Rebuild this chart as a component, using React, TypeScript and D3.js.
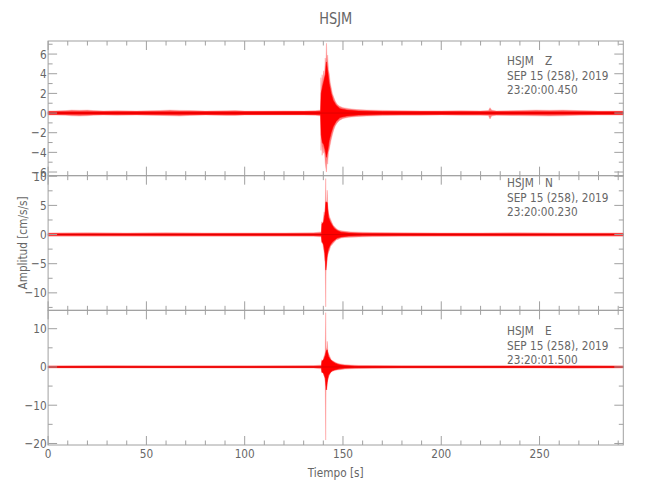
import React from "react";
import * as d3 from "d3";

type Row = [number, number, number];

const X_MAX = 292.6;
const xMajorTicks = [0, 50, 100, 150, 200, 250];
const titleText = "HSJM";
const xLabel = "Tiempo [s]";
const yLabel = "Amplitud [cm/s/s]";

// Z component envelope [t, upper, lower]
const zOuter: Row[] = [
  [0, 0.2, -0.2], [4, 0.22, -0.2], [9, 0.25, -0.22], [12, 0.3, -0.28], [16, 0.28, -0.3],
  [20, 0.3, -0.27], [23, 0.25, -0.22], [28, 0.22, -0.2], [35, 0.24, -0.22], [45, 0.2, -0.2],
  [57, 0.26, -0.24], [62, 0.3, -0.27], [67, 0.27, -0.3], [72, 0.26, -0.24], [80, 0.2, -0.2],
  [91, 0.24, -0.24], [95, 0.26, -0.24], [100, 0.2, -0.2], [110, 0.2, -0.2], [120, 0.22, -0.2],
  [130, 0.2, -0.2], [136, 0.24, -0.22], [138.6, 0.3, -0.3], [138.8, 3.6, -3.8], [139.1, 2.2, -2.5],
  [139.4, 3.9, -4.3], [139.8, 3.0, -3.4], [140.2, 4.3, -4.1], [140.6, 3.6, -3.9], [141.0, 5.6, -5.1],
  [141.3, 4.8, -5.6], [141.6, 7.1, -6.0], [141.9, 5.2, -4.6], [142.2, 5.9, -5.2], [142.6, 4.4, -4.0],
  [143.0, 4.0, -3.7], [143.5, 3.1, -3.2], [144.0, 2.6, -2.7], [144.6, 2.0, -2.2], [145.3, 1.6, -1.7],
  [146.1, 1.2, -1.3], [147.0, 0.9, -1.0], [148.2, 0.7, -0.75], [150, 0.55, -0.55], [153, 0.45, -0.42],
  [157, 0.35, -0.35], [162, 0.3, -0.3], [170, 0.27, -0.26], [180, 0.24, -0.22], [190, 0.22, -0.22],
  [200, 0.22, -0.2], [210, 0.24, -0.22], [220, 0.22, -0.22], [224, 0.26, -0.26], [224.8, 0.55, -0.6],
  [225.6, 0.3, -0.3], [228, 0.22, -0.22], [240, 0.26, -0.26], [248, 0.3, -0.28], [255, 0.28, -0.3],
  [262, 0.3, -0.28], [270, 0.25, -0.22], [280, 0.2, -0.2], [292.6, 0.2, -0.2],
];
const zCore: Row[] = [
  [0, 0.12, -0.12], [138.6, 0.15, -0.15], [138.9, 2.0, -2.2], [139.5, 2.6, -3.0], [140.2, 3.2, -3.2],
  [141.0, 3.9, -3.8], [141.6, 5.2, -4.5], [142.2, 4.3, -3.9], [143.0, 3.0, -2.8], [144.0, 2.0, -2.0],
  [145.0, 1.3, -1.4], [146.5, 0.8, -0.85], [148.5, 0.45, -0.45], [152, 0.3, -0.3], [158, 0.2, -0.2],
  [170, 0.15, -0.15], [292.6, 0.12, -0.12],
];

// N component envelope
const nOuter: Row[] = [
  [0, 0.28, -0.28], [20, 0.32, -0.28], [40, 0.28, -0.28], [60, 0.32, -0.3], [80, 0.28, -0.28],
  [100, 0.28, -0.28], [120, 0.28, -0.28], [135, 0.3, -0.3], [139.0, 0.45, -0.4], [139.2, 2.2, -1.4],
  [139.6, 1.6, -1.2], [140.0, 2.6, -2.2], [140.4, 3.9, -3.0], [140.8, 3.2, -4.5], [141.0, 4.0, -4.5],
  [141.2, 9.6, -12.4], [141.4, 4.5, -6.0], [141.8, 6.0, -5.0], [142.0, 7.6, -4.0], [142.3, 4.5, -3.5],
  [142.7, 3.6, -3.0], [143.2, 3.0, -2.6], [143.7, 2.6, -2.0], [144.3, 2.1, -1.8], [145.0, 1.6, -1.5],
  [145.8, 1.3, -1.2], [146.7, 1.0, -0.9], [147.6, 0.8, -0.8], [149, 0.65, -0.6], [151, 0.55, -0.5],
  [154, 0.45, -0.45], [158, 0.4, -0.4], [165, 0.35, -0.35], [180, 0.3, -0.3], [200, 0.28, -0.28],
  [220, 0.28, -0.28], [240, 0.3, -0.28], [260, 0.28, -0.28], [292.6, 0.28, -0.28],
];
const nCore: Row[] = [
  [0, 0.12, -0.12], [139.0, 0.15, -0.15], [139.3, 1.8, -1.2], [140.2, 2.2, -1.8], [140.8, 3.5, -3.2],
  [141.3, 5.6, -6.1], [142.0, 5.5, -3.5], [142.6, 3.0, -2.5], [143.5, 2.2, -1.8], [144.5, 1.6, -1.3],
  [145.5, 1.1, -1.0], [147, 0.7, -0.6], [149, 0.4, -0.4], [153, 0.25, -0.25], [160, 0.18, -0.18],
  [292.6, 0.12, -0.12],
];

// E component envelope
const eOuter: Row[] = [
  [0, 0.3, -0.3], [30, 0.35, -0.3], [60, 0.3, -0.3], [100, 0.3, -0.3], [135, 0.35, -0.3],
  [139.0, 0.5, -0.5], [139.2, 1.9, -1.6], [139.7, 1.4, -1.2], [140.2, 2.5, -2.2], [140.7, 3.2, -2.6],
  [141.0, 4.0, -4.0], [141.2, 14.2, -19.1], [141.4, 4.5, -5.5], [141.8, 5.0, -6.0], [142.0, 6.7, -4.0],
  [142.3, 4.0, -3.2], [142.8, 3.3, -2.5], [143.4, 2.6, -1.8], [144.0, 1.9, -1.3], [144.8, 1.6, -1.1],
  [145.8, 1.3, -0.95], [147.0, 1.0, -0.8], [148.5, 0.8, -0.7], [151, 0.6, -0.55], [154, 0.5, -0.45],
  [158, 0.4, -0.4], [165, 0.35, -0.35], [180, 0.3, -0.3], [220, 0.3, -0.3], [250, 0.35, -0.3],
  [265, 0.4, -0.35], [292.6, 0.3, -0.3],
];
const eCore: Row[] = [
  [0, 0.12, -0.12], [139.0, 0.15, -0.15], [139.3, 1.5, -1.3], [140.3, 2.0, -1.8], [141.0, 3.0, -3.0],
  [141.5, 4.2, -6.0], [142.0, 4.5, -4.0], [142.6, 2.8, -2.2], [143.5, 2.0, -1.5], [144.5, 1.5, -1.0],
  [146, 1.0, -0.7], [148, 0.6, -0.5], [151, 0.35, -0.3], [156, 0.2, -0.2], [292.6, 0.12, -0.12],
];

const zTicks = [-6, -4, -2, 0, 2, 4, 6];
const nTicks = [-10, -5, 0, 5, 10];
const eTicks = [-20, -10, 0, 10];

const panels = [
  { comp: "Z", domain: [-6.37, 7.33], ticks: zTicks, minor: 1, outer: zOuter, core: zCore,
    lines: ["SEP 15 (258), 2019", "23:20:00.450"], annoY: 65 },
  { comp: "N", domain: [-13.0, 10.1], ticks: nTicks, minor: 2.5, outer: nOuter, core: nCore,
    lines: ["SEP 15 (258), 2019", "23:20:00.230"], annoY: 187 },
  { comp: "E", domain: [-20.4, 14.8], ticks: eTicks, minor: 5, outer: eOuter, core: eCore,
    lines: ["SEP 15 (258), 2019", "23:20:01.500"], annoY: 335 },
];

const AX = "#a0a0a0";
const TX = "#666666";
const FONT = "'DejaVu Sans Condensed', 'DejaVu Sans', sans-serif";

function NT(props: { x: number; y: number; anchor?: string; size?: number; children: React.ReactNode }) {
  const { x, y, anchor = "start", size = 13, children } = props;
  return (
    <text transform={`translate(${x},${y}) scale(0.9,1)`} textAnchor={anchor} fontSize={size} fill={TX}>
      {children}
    </text>
  );
}

export default function App() {
  const left = 48.1, right = 623.3, top = 41, bottom = 445;
  const ph = (bottom - top) / 3;
  const x = d3.scaleLinear().domain([0, X_MAX]).range([left, right]);
  const xMinor = d3.range(0, X_MAX, 10);

  return (
    <svg width={650} height={500} style={{ position: "absolute", left: 0, top: 0, background: "#fff" }}
      fontFamily={FONT}>
      <NT x={(left + right) / 2} y={24} anchor="middle" size={16}>{titleText}</NT>
      {panels.map((p, i) => {
        const pt = top + i * ph;
        const pb = pt + ph;
        const y = d3.scaleLinear().domain(p.domain).range([pb, pt]);
        const area = d3.area<Row>().x(d => x(d[0])).y0(d => y(d[2])).y1(d => y(d[1]));
        const yMinor = d3.range(Math.ceil(p.domain[0] / p.minor) * p.minor, p.domain[1], p.minor);
        return (
          <g key={p.comp}>
            <path d={area(p.outer) || ""} fill="#ff7a7a" stroke="#ff8a8a" strokeWidth={0.4} />
            <path d={area(p.core) || ""} fill="#ff0000" stroke="#ff0000" strokeWidth={0.5} />
            <line x1={left} x2={right} y1={y(0)} y2={y(0)} stroke="#e00000" strokeWidth={1} />
            <rect x={left} y={pt} width={right - left} height={ph} fill="none" stroke={AX} strokeWidth={1} />
            {xMinor.map(t => {
              const major = xMajorTicks.includes(t);
              const L = major ? 9 : 4.5;
              return (
                <g key={"x" + t}>
                  <line x1={x(t)} x2={x(t)} y1={pt} y2={pt + L} stroke={AX} />
                  <line x1={x(t)} x2={x(t)} y1={pb} y2={pb - L} stroke={AX} />
                </g>
              );
            })}
            {yMinor.map(v => {
              const major = p.ticks.includes(v);
              const L = major ? 9 : 4.5;
              return (
                <g key={"y" + v}>
                  <line x1={left} x2={left + L} y1={y(v)} y2={y(v)} stroke={AX} />
                  <line x1={right} x2={right - L} y1={y(v)} y2={y(v)} stroke={AX} />
                </g>
              );
            })}
            {p.ticks.map(v => (
              <NT key={"l" + v} x={left - 1.5} y={y(v) + 4.5} anchor="end">
                {v < 0 ? "\u2212" + Math.abs(v) : String(v)}
              </NT>
            ))}
            <NT x={507} y={p.annoY}>HSJM</NT>
            <NT x={545} y={p.annoY}>{p.comp}</NT>
            {p.lines.map((s, k) => (
              <NT key={k} x={507} y={p.annoY + 14.5 * (k + 1)}>{s}</NT>
            ))}
          </g>
        );
      })}
      {xMajorTicks.map(t => (
        <NT key={"xl" + t} x={x(t)} y={458} anchor="middle">{t}</NT>
      ))}
      <NT x={(left + right) / 2} y={477} anchor="middle">{xLabel}</NT>
      <text transform={`translate(27, ${top + 1.5 * ph}) rotate(-90) scale(0.9,1)`} textAnchor="middle"
        fontSize={13} fill={TX}>
        {yLabel}
      </text>
    </svg>
  );
}
